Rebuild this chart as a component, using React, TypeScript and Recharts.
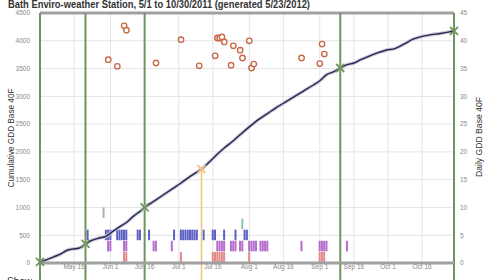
import {
  Bar,
  CartesianGrid,
  ComposedChart,
  Line,
  ReferenceLine,
  Scatter,
  XAxis,
  YAxis,
} from "recharts";

// days counted from May 1 (day 0) to Oct 30 (day 182)
const tickDays = [15, 31, 46, 61, 76, 92, 107, 123, 138, 153, 168];
const tickLabels = ["May 16", "Jun 1", "Jun 16", "Jul 1", "Jul 16", "Aug 1", "Aug 16", "Sep 1", "Sep 16", "Oct 1", "Oct 16"];
const leftTicks = [0, 500, 1000, 1500, 2000, 2500, 3000, 3500, 4000, 4500];
const rightTicks = [0, 5, 10, 15, 20, 25, 30, 35, 40, 45];

const cumDays = [0, 3, 6, 9, 12, 14, 17, 20, 23, 26, 29, 32, 35, 38, 41, 44, 46, 50, 54, 58, 62, 66, 71, 75, 78, 81, 85, 88, 92, 96, 100, 104, 108, 112, 116, 120, 123, 126, 129, 132, 135, 138, 141, 145, 149, 152, 156, 160, 164, 168, 172, 176, 180, 182];
const cumValues = [20, 60, 110, 160, 230, 250, 265, 340, 410, 450, 480, 570, 650, 730, 840, 930, 1000, 1110, 1220, 1330, 1440, 1560, 1690, 1840, 1960, 2070, 2200, 2310, 2450, 2580, 2690, 2800, 2900, 3000, 3100, 3200, 3280, 3390, 3440, 3510, 3570, 3600, 3660, 3730, 3790, 3830, 3860, 3940, 4030, 4080, 4110, 4130, 4160, 4180];

const dailyDays = [30, 34, 37, 38, 51, 62, 70, 77, 78, 79, 80, 81, 84, 85, 88, 89, 92, 93, 94, 115, 123, 124, 125];
const dailyValues = [36.6, 35.4, 42.7, 41.9, 36.0, 40.2, 35.5, 37.3, 40.5, 40.5, 40.7, 39.8, 35.6, 39.1, 38.3, 36.9, 40.0, 35.1, 35.8, 36.9, 35.9, 39.4, 37.6];

const blueDays = [21, 29, 30, 31, 34, 35, 36, 37, 38, 43, 44, 48, 59, 62, 63, 64, 65, 66, 67, 68, 69, 72, 76, 77, 81, 86, 90, 91];
const purpleDays = [30, 31, 37, 38, 50, 51, 58, 78, 79, 80, 81, 84, 85, 86, 88, 89, 92, 93, 94, 95, 97, 98, 99, 100, 115, 123, 124, 125, 126, 135];
const redDays = [37, 38, 62, 76, 77, 78, 79, 80, 81, 92, 123, 124, 125];
const tealDays = [89];
const grayDays = [28];

const grayBand = [810, 1000];
const tealBand = [610, 800];
const blueBand = [410, 600];
const purpleBand = [210, 400];
const redBand = [0, 200];

const milestoneDays = [0, 20, 46, 132, 182];
const milestoneValues = [20, 345, 1000, 3510, 4180];
const orangeDay = 71;
const orangeValue = 1690;

const rows = new Map<number, any>();
const row = (d: number) => {
  if (!rows.has(d)) rows.set(d, { day: d });
  return rows.get(d);
};
cumDays.forEach((d, i) => (row(d).cum = cumValues[i]));
blueDays.forEach((d) => (row(d).blue = blueBand));
purpleDays.forEach((d) => (row(d).purple = purpleBand));
redDays.forEach((d) => (row(d).red = redBand));
tealDays.forEach((d) => (row(d).teal = tealBand));
grayDays.forEach((d) => (row(d).gray = grayBand));
const data = [...rows.values()].sort((a, b) => a.day - b.day);

const dailyData = dailyDays.map((d, i) => ({ day: d, gdd: dailyValues[i] }));
const milestones = milestoneDays.map((d, i) => ({ day: d, value: milestoneValues[i] }));

const GREEN = "#6f9460";
const font = "'Liberation Sans', Arial, sans-serif";
const tick = { fontSize: 6.5, fill: "#888", fontFamily: font };

function DayTick(p: any) {
  return (
    <text x={p.x} y={p.y} dy={6} textAnchor="middle" fontSize={6.5} fill="#888" fontFamily={font}>
      {tickLabels[tickDays.indexOf(p.payload.value)]}
    </text>
  );
}

function Ring(p: any) {
  return <circle cx={p.cx} cy={p.cy} r={2.7} fill="#fff" stroke="#c96a48" strokeWidth={1.4} />;
}

function XMark(color: string) {
  return (p: any) => (
    <g stroke={color} strokeWidth={1.8}>
      <line x1={p.cx - 4} y1={p.cy - 4} x2={p.cx + 4} y2={p.cy + 4} />
      <line x1={p.cx - 4} y1={p.cy + 4} x2={p.cx + 4} y2={p.cy - 4} />
    </g>
  );
}

const barAxes = ["blue", "purple", "red", "teal", "gray"];
const barColors: Record<string, string> = {
  blue: "#5d60c4",
  purple: "#b56dcb",
  red: "#e38a8a",
  teal: "#86c9ad",
  gray: "#b0b0b0",
};

export default function App() {
  return (
    <div style={{ position: "absolute", left: 0, top: 0, width: 500, height: 280, overflow: "hidden", background: "#fff" }}>
      <ComposedChart width={500} height={280} data={data} margin={{ top: 13, right: 0, bottom: 0, left: 0 }}>
        <CartesianGrid xAxisId="main" yAxisId="left" stroke="#e4e4e4" vertical horizontal />
        <XAxis
          xAxisId="main"
          type="number"
          dataKey="day"
          domain={[0, 182]}
          ticks={tickDays}
          tick={<DayTick />}
          tickLine={false}
          tickSize={0}
          tickMargin={0}
          axisLine={{ stroke: "#a0a0a0", strokeWidth: 3 }}
          height={17}
          interval={0}
        />
        {barAxes.map((k) => (
          <XAxis key={k} xAxisId={k} orientation="top" type="number" dataKey="day" domain={[0, 182]} hide />
        ))}
        <YAxis
          yAxisId="left"
          domain={[0, 4500]}
          ticks={leftTicks}
          tick={tick}
          tickLine={false}
          axisLine={false}
          tickSize={10}
          tickMargin={0}
          width={40}
        />
        <YAxis
          yAxisId="right"
          orientation="right"
          domain={[0, 45]}
          ticks={rightTicks}
          tick={tick}
          tickLine={false}
          axisLine={false}
          tickSize={6}
          tickMargin={0}
          width={46}
        />
        <ReferenceLine xAxisId="main" yAxisId="left" y={4500} stroke="#a0a0a0" strokeWidth={3} />
        {barAxes.map((k) => (
          <Bar key={k} xAxisId={k} yAxisId="left" dataKey={k} fill={barColors[k]} barSize={2} isAnimationActive={false} />
        ))}
        {milestoneDays.map((d) => (
          <ReferenceLine
            key={d}
            xAxisId="main"
            yAxisId="left"
            segment={[{ x: d, y: -400 }, { x: d, y: 4500 }]}
            stroke={GREEN}
            strokeWidth={2}
            ifOverflow="visible"
          />
        ))}
        <ReferenceLine
          xAxisId="main"
          yAxisId="left"
          segment={[{ x: orangeDay, y: -400 }, { x: orangeDay, y: orangeValue }]}
          stroke="#f2c27a"
          strokeWidth={1.5}
          ifOverflow="visible"
        />
        <Line
          xAxisId="main"
          yAxisId="left"
          dataKey="cum"
          type="monotone"
          stroke="#c9c9dc"
          strokeWidth={3.5}
          dot={false}
          connectNulls
          isAnimationActive={false}
        />
        <Line
          xAxisId="main"
          yAxisId="left"
          dataKey="cum"
          type="monotone"
          stroke="#26264f"
          strokeWidth={1.4}
          dot={false}
          connectNulls
          isAnimationActive={false}
        />
        <Scatter xAxisId="main" yAxisId="right" data={dailyData} dataKey="gdd" shape={Ring} isAnimationActive={false} />
        <Scatter xAxisId="main" yAxisId="left" data={milestones} dataKey="value" shape={XMark(GREEN)} isAnimationActive={false} />
        <Scatter
          xAxisId="main"
          yAxisId="left"
          data={[{ day: orangeDay, value: orangeValue }]}
          dataKey="value"
          shape={XMark("#f2c27a")}
          isAnimationActive={false}
        />
      </ComposedChart>
      <svg width={500} height={280} style={{ position: "absolute", left: 0, top: 0, pointerEvents: "none" }}>
        <text x={8} y={8} fontFamily={font} fontWeight="bold" fontSize={10} fill="#333" textLength={302} lengthAdjust="spacingAndGlyphs">
          Bath Enviro-weather Station, 5/1 to 10/30/2011 (generated 5/23/2012)
        </text>
        <text
          x={0}
          y={0}
          transform="translate(14,138) rotate(-90)"
          textAnchor="middle"
          fontFamily={font}
          fontSize={9}
          fill="#333"
          textLength={99}
          lengthAdjust="spacingAndGlyphs"
        >
          Cumulative GDD Base 40F
        </text>
        <text
          x={0}
          y={0}
          transform="translate(482,137) rotate(-90)"
          textAnchor="middle"
          fontFamily={font}
          fontSize={9}
          fill="#333"
          textLength={80}
          lengthAdjust="spacingAndGlyphs"
        >
          Daily GDD Base 40F
        </text>
        <text x={7} y={285} fontFamily={font} fontSize={10} fill="#333">
          Show
        </text>
      </svg>
    </div>
  );
}
